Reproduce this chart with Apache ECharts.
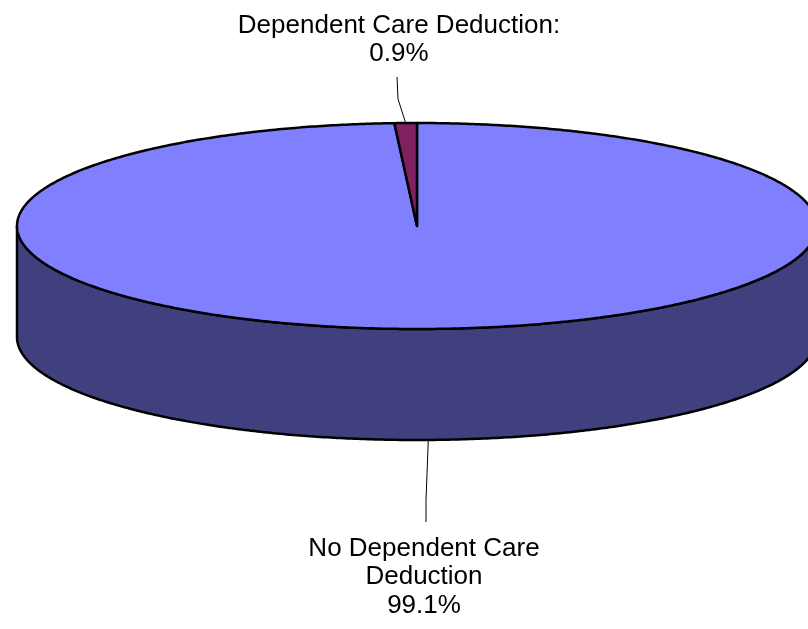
<!DOCTYPE html>
<html>
<head>
<meta charset="utf-8">
<script src="https://cdn.jsdelivr.net/npm/echarts@6/dist/echarts.min.js"></script>
<style>
  html, body { margin: 0; padding: 0; background: #fff; }
  #chart { width: 808px; height: 629px; }
</style>
</head>
<body>
<div id="chart"></div>
<script>
const categories = ["No Dependent Care Deduction", "Dependent Care Deduction"];
const values = [99.1, 0.9];
const labelLines = [["No Dependent Care", "Deduction"], ["Dependent Care Deduction:"]];

// pie ellipse layout (3d look: top face + front wall)
const pie = { cx: 417, cy: 226, rx: 400, ry: 103, depth: 111 };
const topColors = ["#8080ff", "#802060"];
const sideColors = ["#40407f", "#40102f"];
// leader line bend / end and label box for each slice
const labelPos = [
  { bend: [426, 500], end: [426, 522], x: 424, y: 577, lineHeight: 28.5 },
  { bend: [398, 99], end: [397, 77], x: 399, y: 40, lineHeight: 27.5 },
];

const total = values.reduce((a, b) => a + b, 0);

function pt(deg, dy) {
  const r = (deg * Math.PI) / 180;
  return [pie.cx + pie.rx * Math.sin(r), pie.cy - pie.ry * Math.cos(r) + (dy || 0)];
}
function arc(a0, a1, dy) {
  const pts = [];
  const n = Math.max(2, Math.ceil(Math.abs(a1 - a0) / 0.5));
  for (let i = 0; i <= n; i++) pts.push(pt(a0 + ((a1 - a0) * i) / n, dy));
  return pts;
}

function renderItem(params, api) {
  const idx = params.dataIndex;
  let before = 0;
  for (let i = 0; i < idx; i++) before += values[i];
  const a0 = (before / total) * 360;
  const a1 = ((before + api.value(0)) / total) * 360;
  const children = [];

  // front wall
  const s0 = Math.max(a0, 90), s1 = Math.min(a1, 270);
  if (s1 > s0) {
    children.push({
      type: "polygon",
      z2: 1,
      shape: { points: arc(s0, s1, 0).concat(arc(s1, s0, pie.depth)) },
      style: { fill: sideColors[idx], stroke: "#000", lineWidth: 2.5, lineJoin: "round" },
    });
  }
  // top face
  children.push({
    type: "polygon",
    z2: 2,
    shape: { points: [[pie.cx, pie.cy]].concat(arc(a0, a1, 0)) },
    style: { fill: topColors[idx], stroke: "#000", lineWidth: 2.5, lineJoin: "round" },
  });

  // leader line + label
  const mid = (a0 + a1) / 2;
  const front = mid > 90 && mid < 270;
  const start = pt(mid, front ? pie.depth : 0);
  const lp = labelPos[idx];
  children.push({
    type: "polyline",
    z2: 3,
    shape: { points: [start, lp.bend, lp.end] },
    style: { stroke: "#000", lineWidth: 1, fill: null },
  });
  const text = labelLines[idx].concat([api.value(0).toFixed(1) + "%"]).join("\n");
  children.push({
    type: "text",
    z2: 4,
    style: {
      text: text,
      x: lp.x,
      y: lp.y,
      align: "center",
      verticalAlign: "middle",
      textAlign: "center",
      textVerticalAlign: "middle",
      lineHeight: lp.lineHeight,
      font: '26px "Liberation Sans", Arial, sans-serif',
      fill: "#000",
    },
  });
  return { type: "group", children: children };
}

const myChart = echarts.init(document.getElementById("chart"));
const option = {
  animation: false,
  series: [
    {
      type: "custom",
      coordinateSystem: "none",
      silent: true,
      data: values.map((v, i) => ({ name: categories[i], value: v })),
      renderItem: renderItem,
    },
  ],
};
myChart.setOption(option);
</script>
</body>
</html>
